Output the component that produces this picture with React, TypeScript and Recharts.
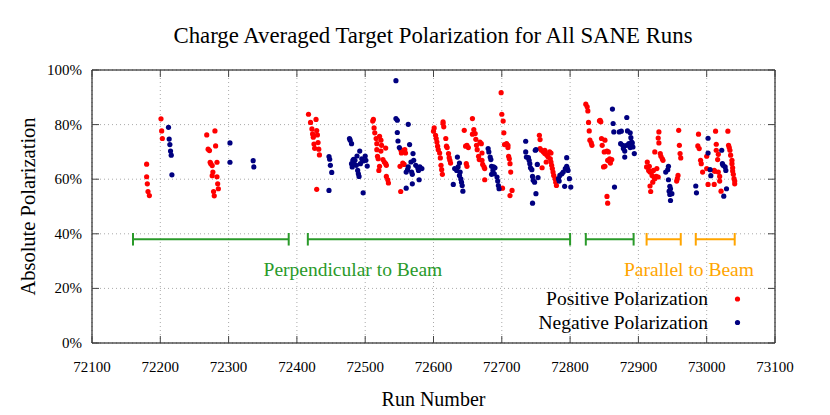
import React from 'react';
import {
  ScatterChart,
  Scatter,
  XAxis,
  YAxis,
  CartesianGrid,
  ReferenceLine,
  ReferenceArea,
  ReferenceDot,
} from 'recharts';

const W = 830;
const H = 415;
const PLOT = { left: 92, right: 775, top: 70, bottom: 343 };
const FONT = '"Liberation Serif", "DejaVu Serif", serif';

const xTicks = [72100, 72200, 72300, 72400, 72500, 72600, 72700, 72800, 72900, 73000, 73100];
const yTicks = [0, 20, 40, 60, 80, 100];

// [run number, absolute polarization %]
const positivePolarization: [number, number][] = [
  [72180, 65.5], [72180, 60.9], [72181, 58.3], [72182, 55.5], [72184, 54.0],
  [72201, 82.1], [72202, 77.7], [72203, 74.9],
  [72268, 76.2], [72280, 77.7], [72270, 71.0], [72272, 70.5], [72281, 72.2], [72273, 66.2], [72274, 65.7], [72276, 65.0],
  [72283, 66.2], [72277, 62.6], [72276, 61.3], [72283, 60.9], [72284, 58.3], [72285, 56.5], [72278, 55.5], [72279, 53.9],
  [72417, 83.8], [72420, 80.8], [72428, 81.9], [72422, 78.4], [72429, 77.8], [72423, 76.6], [72430, 76.2], [72424, 75.4],
  [72431, 73.4], [72425, 72.9], [72426, 71.3], [72432, 71.0], [72433, 68.9], [72429, 56.3],
  [72512, 81.9], [72511, 81.3], [72513, 78.8], [72514, 77.0], [72521, 75.7], [72516, 74.9], [72523, 74.3], [72517, 73.0],
  [72524, 72.4], [72530, 71.4], [72517, 70.8], [72523, 70.3], [72518, 68.4], [72519, 67.5], [72526, 67.2], [72528, 66.3],
  [72530, 65.7], [72531, 65.1], [72521, 64.7], [72520, 63.2], [72531, 61.0], [72533, 59.8], [72534, 58.6],
  [72552, 70.8], [72556, 70.3], [72558, 70.8], [72553, 69.6], [72559, 69.6], [72555, 65.9], [72557, 65.4], [72551, 64.7], [72552, 55.5],
  [72601, 78.8], [72600, 77.6], [72614, 81.0], [72614, 80.4], [72615, 79.2], [72603, 76.1], [72604, 74.9], [72605, 73.6],
  [72606, 72.1], [72607, 70.8], [72609, 69.6], [72618, 74.9], [72619, 72.1], [72620, 71.6], [72622, 69.4], [72623, 67.9],
  [72610, 67.8], [72624, 66.9], [72625, 65.9], [72611, 65.1], [72612, 63.5], [72613, 61.8],
  [72645, 77.9], [72647, 72.1], [72649, 72.4], [72651, 71.6], [72648, 65.7], [72649, 64.7], [72657, 82.2], [72659, 78.2],
  [72657, 76.5], [72661, 76.7], [72662, 74.6], [72663, 72.4], [72668, 73.6], [72670, 73.0], [72664, 70.8], [72666, 68.4],
  [72671, 69.6], [72667, 67.2], [72671, 66.9], [72672, 65.4], [72674, 64.5], [72675, 63.9], [72675, 59.8],
  [72699, 91.7], [72700, 83.8], [72702, 81.3], [72703, 77.0], [72704, 72.7], [72707, 73.0], [72709, 72.4], [72709, 71.6],
  [72710, 68.4], [72711, 67.5], [72712, 65.7], [72713, 62.6], [72701, 56.7], [72715, 55.9], [72712, 54.0],
  [72755, 76.1], [72756, 74.5], [72756, 71.2], [72758, 70.6], [72761, 70.0], [72763, 70.6], [72763, 69.4], [72766, 68.8],
  [72770, 70.0], [72772, 69.6], [72768, 68.1], [72771, 67.5], [72765, 66.3], [72759, 64.2], [72772, 66.3], [72773, 65.1],
  [72774, 63.9], [72775, 62.6], [72776, 61.4], [72778, 60.2], [72779, 58.9], [72780, 57.7],
  [72823, 87.5], [72825, 86.5], [72826, 85.0], [72827, 80.8], [72828, 77.7], [72829, 74.3], [72831, 73.3], [72832, 72.4], [72843, 81.4],
  [72844, 81.6], [72845, 81.0], [72846, 74.9], [72851, 74.3], [72847, 72.4], [72850, 70.0], [72854, 70.3], [72856, 70.0],
  [72858, 67.5], [72861, 67.2], [72857, 66.7], [72859, 65.9], [72855, 66.9], [72849, 64.5], [72851, 64.7], [72854, 53.7], [72855, 51.2],
  [72930, 77.3], [72929, 75.1], [72930, 73.3], [72924, 70.0], [72932, 69.4], [72933, 68.4], [72935, 67.5], [72936, 66.9],
  [72913, 66.3], [72916, 64.7], [72915, 63.2], [72917, 62.6], [72922, 63.2], [72927, 63.9], [72920, 61.4], [72923, 60.6],
  [72926, 61.0], [72929, 60.8], [72921, 58.9], [72917, 57.5], [72918, 55.5], [72924, 60.2], [72912, 64.5],
  [72959, 77.9], [72960, 72.4], [72961, 69.4], [72962, 67.8], [72958, 61.4], [72957, 60.2], [72956, 59.3],
  [72988, 76.5], [72987, 72.2], [72989, 71.2], [72991, 66.9], [72992, 65.7], [72994, 62.6], [73002, 58.1], [73011, 58.1], [73000, 68.4],
  [73013, 77.6], [73014, 72.8], [73014, 70.6], [73017, 69.1], [73016, 67.2], [73000, 63.9], [73011, 63.2], [73012, 62.9],
  [73017, 62.6], [73019, 61.0], [73019, 59.3], [73021, 55.6],
  [73031, 77.6], [73032, 72.4], [73033, 71.6], [73034, 70.6], [73035, 68.8], [73037, 66.9], [73037, 65.7], [73038, 64.2],
  [73038, 63.0], [73039, 61.8], [73040, 60.2], [73041, 59.3], [73041, 58.3],
];

const negativePolarization: [number, number][] = [
  [72212, 79.0], [72213, 74.7], [72214, 72.7], [72215, 70.3], [72216, 68.8], [72217, 61.6],
  [72302, 73.3], [72302, 66.2], [72336, 66.8], [72337, 64.5],
  [72447, 68.3], [72448, 67.3], [72449, 65.1], [72451, 62.5], [72447, 55.9],
  [72477, 74.9], [72478, 74.3], [72480, 73.0], [72492, 70.3], [72488, 68.5], [72483, 67.3], [72482, 66.9], [72485, 66.9],
  [72495, 67.5], [72500, 68.5], [72501, 66.9], [72497, 66.7], [72480, 65.7], [72484, 65.4], [72487, 65.1], [72493, 65.7],
  [72481, 64.5], [72503, 64.8], [72489, 63.2], [72490, 62.0], [72491, 61.0], [72497, 55.0],
  [72545, 96.1], [72545, 82.2], [72547, 81.6], [72563, 80.1], [72547, 77.1], [72548, 74.0], [72565, 72.7], [72550, 71.6],
  [72570, 69.4], [72571, 66.9], [72567, 66.3], [72563, 64.5], [72562, 63.5], [72560, 62.6], [72568, 62.6], [72574, 65.1],
  [72577, 64.1], [72580, 64.5], [72583, 63.9], [72578, 63.2], [72569, 61.8], [72579, 59.8], [72569, 58.3], [72560, 56.7],
  [72631, 63.9], [72634, 63.2], [72636, 64.5], [72638, 61.4], [72629, 58.1], [72635, 68.1], [72638, 65.9], [72639, 62.6],
  [72640, 60.1], [72641, 58.9], [72642, 57.7], [72643, 55.6],
  [72680, 71.2], [72681, 70.0], [72683, 68.1], [72684, 67.2], [72685, 64.7], [72688, 64.5], [72690, 64.2], [72687, 63.2],
  [72689, 62.0], [72685, 61.8], [72693, 60.8], [72694, 59.3], [72695, 57.7], [72696, 56.5],
  [72735, 73.9], [72735, 70.0], [72736, 68.1], [72739, 67.9], [72740, 66.9], [72741, 65.7], [72742, 64.2], [72744, 63.5],
  [72749, 70.6], [72750, 70.8], [72752, 65.4], [72745, 61.0], [72753, 60.6], [72746, 59.6], [72748, 58.9], [72750, 54.7], [72745, 51.2],
  [72783, 60.2], [72785, 61.4], [72788, 62.0], [72790, 62.6], [72793, 63.9], [72795, 64.7], [72796, 63.9], [72797, 63.2],
  [72795, 67.9], [72792, 57.4], [72799, 60.2], [72801, 57.1], [72784, 59.3],
  [72862, 85.7], [72863, 80.4], [72864, 77.3], [72883, 82.6], [72872, 77.3], [72875, 77.6], [72884, 77.7], [72888, 77.0],
  [72889, 75.2], [72890, 73.6], [72874, 73.0], [72877, 72.4], [72879, 72.1], [72883, 72.4], [72886, 73.0], [72891, 73.3],
  [72892, 71.8], [72878, 71.2], [72880, 70.3], [72888, 71.6], [72894, 69.4], [72880, 68.1], [72865, 57.1],
  [72944, 64.7], [72943, 63.5], [72940, 62.6], [72944, 59.8], [72946, 57.4], [72947, 56.5], [72945, 55.6], [72949, 54.7],
  [72946, 54.4], [72947, 52.2],
  [72984, 57.5], [72985, 55.0], [73002, 75.0], [73002, 69.6], [73005, 63.5], [73006, 61.3],
  [73022, 70.6], [73023, 65.7], [73024, 65.1], [73027, 64.5], [73028, 63.2], [73029, 56.5], [73025, 53.8],
];

// target orientation periods [first run, last run]
const perpendicularSpans: [number, number][] = [[72160, 72388], [72416, 72800], [72823, 72893]];
const parallelSpans: [number, number][] = [[72912, 72962], [72984, 73041]];
const spanLevel = 38;
const capHalf = 2.3;

const GREEN = '#2a9a2a';
const ORANGE = '#ffa500';
const RED = '#ff0000';
const BLUE = '#000080';

const positiveData = positivePolarization.map(([x, y]) => ({ x, y }));
const negativeData = negativePolarization.map(([x, y]) => ({ x, y }));

const makeDot = (color: string) => (props: any) => (
  <circle cx={props.cx} cy={props.cy} r={2.6} fill={color} />
);

const tickTextStyle = { fontFamily: FONT, fontSize: 15 };

const XTick = (props: any) => {
  const { x, payload } = props;
  return (
    <g>
      <line x1={x} x2={x} y1={PLOT.bottom} y2={PLOT.bottom - 7} stroke="#444" />
      <line x1={x} x2={x} y1={PLOT.top} y2={PLOT.top + 7} stroke="#444" />
      <text x={x} y={PLOT.bottom + 29} textAnchor="middle" fontFamily={FONT} fontSize={15} style={tickTextStyle} fill="#000">
        {payload.value}
      </text>
    </g>
  );
};

const YTick = (props: any) => {
  const { y, payload } = props;
  return (
    <g>
      <line x1={PLOT.left} x2={PLOT.left + 7} y1={y} y2={y} stroke="#444" />
      <line x1={PLOT.right} x2={PLOT.right - 7} y1={y} y2={y} stroke="#444" />
      <text x={PLOT.left - 10} y={y + 5} textAnchor="end" fontFamily={FONT} fontSize={15} style={tickTextStyle} fill="#000">
        {`${payload.value}%`}
      </text>
    </g>
  );
};

const renderSpans = (spans: [number, number][], color: string, key: string) =>
  spans.flatMap(([a, b], i) => [
    <ReferenceLine
      key={`${key}-h-${i}`}
      segment={[{ x: a, y: spanLevel }, { x: b, y: spanLevel }]}
      stroke={color}
      strokeWidth={2}
    />,
    <ReferenceLine
      key={`${key}-a-${i}`}
      segment={[{ x: a, y: spanLevel - capHalf }, { x: a, y: spanLevel + capHalf }]}
      stroke={color}
      strokeWidth={2}
    />,
    <ReferenceLine
      key={`${key}-b-${i}`}
      segment={[{ x: b, y: spanLevel - capHalf }, { x: b, y: spanLevel + capHalf }]}
      stroke={color}
      strokeWidth={2}
    />,
  ]);

export default function App() {
  return (
    <div style={{ position: 'absolute', left: 0, top: 0, width: W, height: H, background: '#fff', fontFamily: FONT }}>
      <ScatterChart
        width={W}
        height={H}
        margin={{ top: PLOT.top, right: W - PLOT.right, bottom: 3, left: PLOT.left - 60 }}
        style={{ fontFamily: FONT }}
      >
        <CartesianGrid stroke="#aaa" strokeDasharray="1 3" />
        <XAxis
          dataKey="x"
          type="number"
          domain={[72100, 73100]}
          ticks={xTicks}
          interval={0}
          tickSize={0}
          tick={XTick}
          axisLine={false}
          height={H - 3 - PLOT.bottom}
          label={{
            content: (p: any) => (
              <text
                x={p.viewBox.x + p.viewBox.width / 2}
                y={p.viewBox.y + 63}
                textAnchor="middle"
                fontFamily={FONT}
                fontSize={20}
                fill="#000"
              >
                Run Number
              </text>
            ),
          }}
        />
        <YAxis
          dataKey="y"
          type="number"
          domain={[0, 100]}
          ticks={yTicks}
          interval={0}
          tickSize={0}
          tick={YTick}
          axisLine={false}
          width={60}
          label={{
            content: (p: any) => {
              const cx = p.viewBox.x - 4;
              const cy = p.viewBox.y + p.viewBox.height / 2;
              return (
                <text
                  x={cx}
                  y={cy}
                  transform={`rotate(-90 ${cx} ${cy})`}
                  textAnchor="middle"
                  dominantBaseline="central"
                  fontFamily={FONT}
                  fontSize={20.5}
                  fill="#000"
                >
                  Absolute Polarization
                </text>
              );
            },
          }}
        />
        <ReferenceArea x1={72100} x2={73100} y1={0} y2={100} fill="none" fillOpacity={0} stroke="#000" strokeWidth={1} />
        {renderSpans(perpendicularSpans, GREEN, 'perp')}
        {renderSpans(parallelSpans, ORANGE, 'para')}
        <ReferenceDot
          x={72482}
          y={27.2}
          r={0}
          fill="none"
          stroke="none"
          label={{ value: 'Perpendicular to Beam', position: 'center', fill: GREEN, fontSize: 19.5, fontFamily: FONT }}
        />
        <ReferenceDot
          x={72974}
          y={27.2}
          r={0}
          fill="none"
          stroke="none"
          label={{ value: 'Parallel to Beam', position: 'center', fill: ORANGE, fontSize: 19.5, fontFamily: FONT }}
        />
        <Scatter name="Positive Polarization" data={positiveData} fill={RED} shape={makeDot(RED)} isAnimationActive={false} />
        <Scatter name="Negative Polarization" data={negativeData} fill={BLUE} shape={makeDot(BLUE)} isAnimationActive={false} />
      </ScatterChart>
      <svg width={W} height={H} style={{ position: 'absolute', left: 0, top: 0, pointerEvents: 'none' }}>
        <text x={433} y={43} textAnchor="middle" fontFamily={FONT} fontSize={22.8} fill="#000">
          Charge Averaged Target Polarization for All SANE Runs
        </text>
        <text x={708} y={305} textAnchor="end" fontFamily={FONT} fontSize={19.5} fill="#000">
          Positive Polarization
        </text>
        <circle cx={737.5} cy={299} r={2.6} fill={RED} />
        <text x={708} y={329} textAnchor="end" fontFamily={FONT} fontSize={19.5} fill="#000">
          Negative Polarization
        </text>
        <circle cx={737.5} cy={322.5} r={2.6} fill={BLUE} />
      </svg>
    </div>
  );
}
